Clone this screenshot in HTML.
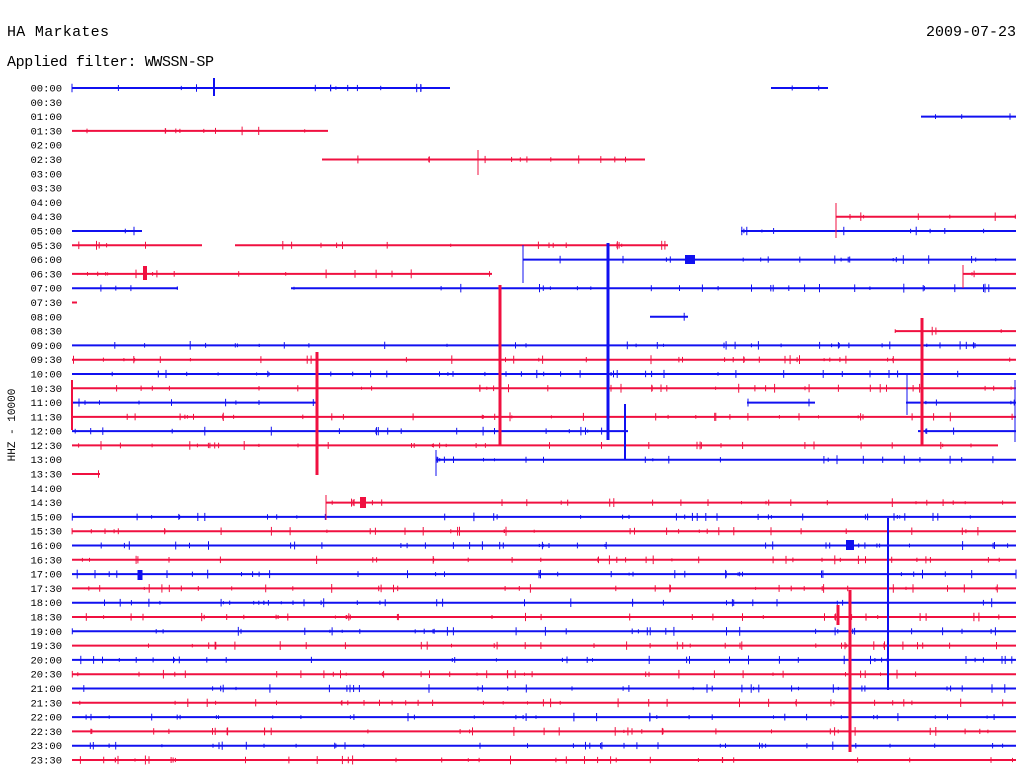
<!DOCTYPE html>
<html><head><meta charset="utf-8"><style>
body{margin:0;background:#fff;width:1024px;height:780px;overflow:hidden}
svg{display:block}
text{font-family:"Liberation Mono",monospace}
</style></head><body>
<svg id="s" width="1024" height="780" xmlns="http://www.w3.org/2000/svg">
<text x="7" y="36" font-size="15" textLength="102">HA Markates</text>
<text x="1016" y="36" font-size="15" text-anchor="end">2009-07-23</text>
<text x="7" y="66" font-size="15" textLength="207">Applied filter: WWSSN-SP</text>
<text transform="translate(15,425) rotate(-90)" font-size="11" text-anchor="middle">HHZ - 10000</text>
<g id="g"></g>
</svg>
<script>
var segs={0:[[72,450],[771,828]],1:[],2:[[921,1016]],3:[[72,328]],4:[],5:[[322,645]],6:[],7:[],8:[],
9:[[836,1016]],10:[[72,142],[741,1016]],11:[[72,202],[235,668]],12:[[523,1016]],13:[[72,492],[963,1016]],
14:[[72,178],[291,1016]],15:[[72,77]],16:[[650,688]],17:[[895,1016]],22:[[72,318],[747,815],[906,1016]],
24:[[72,628],[918,1016]],25:[[72,998]],26:[[436,1016]],27:[[72,100]],28:[],29:[[326,1016]]};
var seed=7;function rnd(){seed=(seed*16807)%2147483647;return seed/2147483647;}
var h='';
for(var i=0;i<48;i++){
 var y=88+i*672/47;
 var hh=Math.floor(i/2),mm=i%2?'30':'00';
 var lab=(hh<10?'0':'')+hh+':'+mm;
 h+='<text x="62" y="'+(y+3.5).toFixed(1)+'" font-size="10.5" text-anchor="end">'+lab+'</text>';
 var c=i%2?'#f01040':'#1010f0';
 var s=segs.hasOwnProperty(i)?segs[i]:[[72,1016]];
 s.forEach(function(a){
  h+='<line x1="'+a[0]+'" y1="'+y.toFixed(1)+'" x2="'+a[1]+'" y2="'+y.toFixed(1)+'" stroke="'+c+'" stroke-width="2"/>';
  var n=Math.floor((a[1]-a[0])/25);
  for(var k=0;k<n;k++){var x=a[0]+rnd()*(a[1]-a[0]);var d=1.5+rnd()*3;
   h+='<line x1="'+x.toFixed(1)+'" y1="'+(y-d).toFixed(1)+'" x2="'+x.toFixed(1)+'" y2="'+(y+d).toFixed(1)+'" stroke="'+c+'" stroke-width="1"/>';}
 });
}
var R='#f01040',B='#1010f0';
var sp=[[500,285,445,R,3],[608,243,440,B,3],[317,352,475,R,3],[922,318,445,R,3],[888,518,690,B,2],[850,590,752,R,3],
[214,78,96,B,2],[72,380,430,R,2],[625,404,460,B,2],[523,245,283,B,1],[478,150,175,R,1],[836,203,238,R,1],[963,265,288,R,1],
[1015,380,442,B,1],[436,450,476,B,1],[326,495,520,R,1],[907,375,415,B,1],[145,266,280,R,4],[363,497,508,R,6],[140,570,580,B,5],
[690,255,264,B,10],[850,540,550,B,8],[838,605,625,R,3]];
sp.forEach(function(a){h+='<line x1="'+a[0]+'" y1="'+a[1]+'" x2="'+a[0]+'" y2="'+a[2]+'" stroke="'+a[3]+'" stroke-width="'+a[4]+'"/>';});
document.getElementById('g').innerHTML=h;
</script>
</body></html>
